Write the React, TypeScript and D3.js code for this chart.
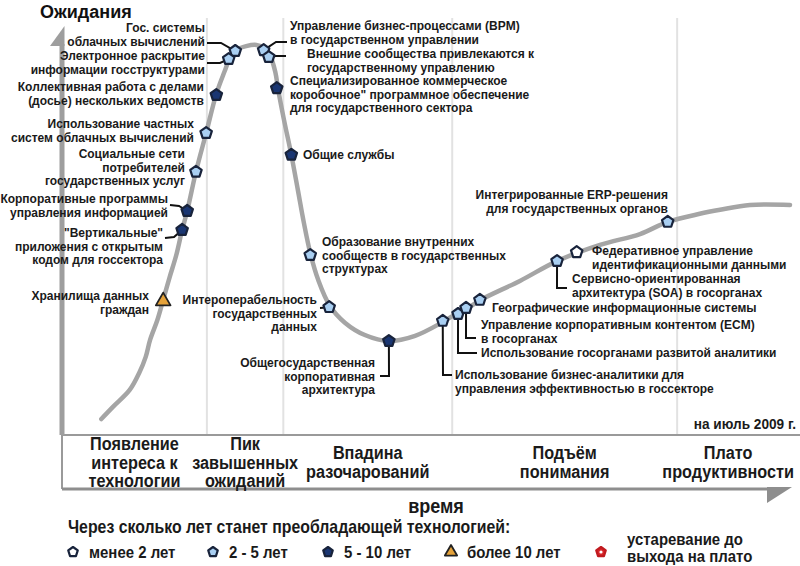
import React, { useEffect, useRef } from "react";
import * as d3 from "d3";

// hype curve: time (0-100) vs expectations (0-100)
const curveTime = [5.4, 7.0, 9.3, 10.6, 11.5, 12.1, 13.1, 13.9, 14.8, 15.7, 16.5, 17.2, 18.4, 19.8, 21.2, 22.3, 23.1, 24.0, 25.3, 26.7, 27.8, 28.6, 29.3, 29.7, 30.5, 31.5, 32.4, 33.2, 34.1, 35.2, 36.8, 38.9, 41.6, 44.9, 48.5, 52.3, 54.4, 55.5, 57.5, 62.9, 68.0, 73.9, 79.4, 83.2, 87.6, 90.4, 94.5, 100];
const curveExpect = [3.7, 6.7, 10.9, 15.1, 19.1, 23.3, 28.2, 33.2, 38.9, 44.3, 50.5, 55.2, 64.9, 74.5, 84.2, 89.6, 93.1, 95.1, 96.0, 96.3, 95.5, 93.6, 89.6, 85.2, 77.7, 69.1, 60.4, 52.5, 44.8, 38.1, 31.7, 27.5, 24.5, 23.0, 24.3, 27.7, 30.0, 30.9, 33.2, 37.9, 42.8, 46.8, 49.5, 52.5, 54.5, 55.5, 56.7, 56.7];

const techNames = [
  ["Гос. системы", "облачных вычислений"],
  ["Электронное раскрытие", "информации госструктурами"],
  ["Коллективная работа с делами", "(досье) нескольких ведомств"],
  ["Использование частных", "систем облачных вычислений"],
  ["Социальные сети", "потребителей", "государственных услуг"],
  ["Корпоративные программы", "управления информацией"],
  ["\"Вертикальные\"", "приложения с открытым", "кодом для госсектора"],
  ["Хранилища данных", "граждан"],
  ["Управление бизнес-процессами (BPM)", "в государственном управлении"],
  ["Внешние сообщества привлекаются к", "государственному управлению"],
  ["Специализированное коммерческое", "коробочное\" программное обеспечение", "для государственного сектора"],
  ["Общие службы"],
  ["Образование внутренних", "сообществ в государственных", "структурах"],
  ["Интероперабельность", "государственных", "данных"],
  ["Общегосударственная", "корпоративная", "архитектура"],
  ["Использование бизнес-аналитики для", "управления эффективностью в госсекторе"],
  ["Использование госорганами развитой аналитики"],
  ["Управление корпоративным контентом (ECM)", "в госорганах"],
  ["Географические информационные системы"],
  ["Сервисно-ориентированная", "архитектура (SOA) в госорганах"],
  ["Федеративное управление", "идентификационными данными"],
  ["Интегрированные ERP-решения", "для государственных органов"],
];
const techTime = [23.8, 22.9, 21.2, 19.8, 18.4, 17.2, 16.5, 13.9, 27.7, 28.4, 29.5, 31.5, 34.1, 36.7, 44.9, 52.3, 54.4, 55.5, 57.4, 68.0, 70.7, 83.2];
const techExpect = [94.8, 92.8, 83.9, 74.5, 64.9, 55.2, 50.5, 32.9, 95.0, 93.3, 85.6, 69.1, 44.3, 31.4, 23.0, 28.0, 29.7, 31.2, 33.2, 42.8, 45.0, 52.5];
const techYears = ["2-5", "2-5", "5-10", "2-5", "2-5", "5-10", "5-10", "gt10", "2-5", "2-5", "5-10", "5-10", "2-5", "2-5", "5-10", "2-5", "2-5", "2-5", "2-5", "2-5", "lt2", "2-5"];

const phaseBounds = [19.9, 30.4, 53.6, 84.5];
const phaseNames = [
  ["Появление", "интереса к", "технологии"],
  ["Пик", "завышенных", "ожиданий"],
  ["Впадина", "разочарований"],
  ["Подъём", "понимания"],
  ["Плато", "продуктивности"],
];

const legendYears = ["lt2", "2-5", "5-10", "gt10", "obsolete"];
const legendNames = [["менее 2 лет"], ["2 - 5 лет"], ["5 - 10 лет"], ["более 10 лет"], ["устаревание до", "выхода на плато"]];

// label placement (pixels): x, y of first line, anchor, leader points before the marker
const labelLayout = [
  { x: 205, y: 28, a: "end", lead: [[207, 43], [221, 43]] },
  { x: 205, y: 56, a: "end", lead: [[207, 63], [220, 63]] },
  { x: 204, y: 87, a: "end", lead: [] },
  { x: 194, y: 124, a: "end", lead: [] },
  { x: 185, y: 154, a: "end", lead: [] },
  { x: 168, y: 199, a: "end", lead: [[170, 205], [179, 206]] },
  { x: 163, y: 233, a: "end", lead: [[165, 238], [174, 237]] },
  { x: 149, y: 296, a: "end", lead: [] },
  { x: 290, y: 26, a: "start", lead: [[287, 42], [276, 42]] },
  { x: 307, y: 54, a: "start", lead: [[286, 56], [276, 56]] },
  { x: 290, y: 81, a: "start", lead: [] },
  { x: 303, y: 155, a: "start", lead: [] },
  { x: 322, y: 242, a: "start", lead: [] },
  { x: 317, y: 300, a: "end", lead: [[320, 308]] },
  { x: 375, y: 363, a: "end", lead: [[380, 376], [389, 376]], after: true },
  { x: 455, y: 375, a: "start", lead: [[452, 375], [443, 375]], after: true },
  { x: 481, y: 353, a: "start", lead: [[477, 353], [458, 353]], after: true },
  { x: 481, y: 325, a: "start", lead: [[476, 338], [466, 338]], after: true },
  { x: 492, y: 308, a: "start", lead: [] },
  { x: 572, y: 279, a: "start", lead: [[567, 288], [557, 288]], after: true },
  { x: 592, y: 251, a: "start", lead: [] },
  { x: 668, y: 195, a: "end", lead: [] },
];
const legendX = [73, 213, 328, 451, 601];

const FILL = { "lt2": "#ffffff", "2-5": "#a9cff2", "5-10": "#1a3672", "obsolete": "#d8262b" };
const LABEL_FONT = "'Liberation Sans', Arial, sans-serif";

const pentagon = (r) => {
  const pts = d3.range(5).map((i) => {
    const a = -Math.PI / 2 + (i * 2 * Math.PI) / 5;
    return [r * Math.cos(a), r * Math.sin(a)];
  });
  return "M" + pts.map((p) => p.join(",")).join("L") + "Z";
};

const drawMarker = (g, kind, r) => {
  if (kind === "gt10") {
    g.append("path")
      .attr("d", d3.symbol(d3.symbolTriangle, r * r * 2.6)())
      .attr("fill", "#e5a23a")
      .attr("stroke", "#222")
      .attr("stroke-width", 1.8)
      .attr("stroke-linejoin", "round");
    return;
  }
  g.append("path")
    .attr("d", pentagon(r))
    .attr("fill", FILL[kind])
    .attr("stroke", kind === "obsolete" ? "#c01a1f" : "#18233b")
    .attr("stroke-width", 2.2)
    .attr("stroke-linejoin", "round");
  if (kind === "obsolete") {
    g.append("circle").attr("r", 1.6).attr("fill", "#fff");
  }
};

// condensed bold text (no narrow font installed, so squeeze Liberation Sans)
const narrowText = (svg, x, y, lines, size, gap, anchor = "start", squeeze = 0.88) => {
  const t = svg
    .append("text")
    .attr("transform", `translate(${x},${y}) scale(${squeeze},1)`)
    .attr("font-family", LABEL_FONT)
    .attr("font-weight", "bold")
    .attr("font-size", size)
    .attr("fill", "#1a1a1a")
    .attr("text-anchor", anchor);
  lines.forEach((s, k) => {
    t.append("tspan").attr("x", 0).attr("y", k * gap).text(s);
  });
  return t;
};

const HypeCycle = () => {
  const svgRef = useRef();

  useEffect(() => {
    document.body.style.margin = "0";
    const svg = d3.select(svgRef.current);
    svg.selectAll("*").remove();

    const x = d3.scaleLinear().domain([0, 100]).range([62, 790]);
    const y = d3.scaleLinear().domain([0, 100]).range([434, 30]);

    // phase grid
    svg
      .selectAll(".grid")
      .data(phaseBounds)
      .join("line")
      .attr("class", "grid")
      .attr("x1", (d) => x(d))
      .attr("x2", (d) => x(d))
      .attr("y1", 18)
      .attr("y2", 435)
      .attr("stroke", "#e2e2e2")
      .attr("stroke-width", 2);

    // axes
    svg.append("line").attr("x1", 62).attr("x2", 800).attr("y1", 435).attr("y2", 435).attr("stroke", "#9a9a9a").attr("stroke-width", 2);
    svg.append("line").attr("x1", 62).attr("x2", 62).attr("y1", 435).attr("y2", 489).attr("stroke", "#9a9a9a").attr("stroke-width", 2);
    svg.append("line").attr("x1", 62).attr("x2", 770).attr("y1", 489).attr("y2", 489).attr("stroke", "#8e8e8e").attr("stroke-width", 3);
    svg.append("path").attr("d", "M767,487L792,487L767,503Z").attr("fill", "#8e8e8e");
    svg.append("line").attr("x1", 62).attr("x2", 62).attr("y1", 44).attr("y2", 435).attr("stroke", "#9e9e9e").attr("stroke-width", 5);
    svg.append("path").attr("d", "M64.5,26L64.5,46L50,46Z").attr("fill", "#9e9e9e");

    svg.append("text").attr("x", 40).attr("y", 18).attr("font-family", LABEL_FONT).attr("font-weight", "bold").attr("font-size", 18).attr("fill", "#111").text("Ожидания");

    // hype curve
    const line = d3
      .line()
      .x((d) => x(d[0]))
      .y((d) => y(d[1]))
      .curve(d3.curveCatmullRom.alpha(0.5));
    svg
      .append("path")
      .datum(d3.zip(curveTime, curveExpect))
      .attr("d", line)
      .attr("fill", "none")
      .attr("stroke", "#a5a5a5")
      .attr("stroke-width", 4.5)
      .attr("stroke-linecap", "round");

    // leaders
    techNames.forEach((_, i) => {
      const L = labelLayout[i];
      if (!L.lead.length) return;
      const m = [x(techTime[i]), y(techExpect[i])];
      const pts = L.after ? [m, ...L.lead.slice().reverse()] : [...L.lead, m];
      svg
        .append("path")
        .attr("d", d3.line()(pts))
        .attr("fill", "none")
        .attr("stroke", "#111")
        .attr("stroke-width", 2);
    });

    // markers
    techNames.forEach((_, i) => {
      const g = svg.append("g").attr("transform", `translate(${x(techTime[i])},${y(techExpect[i])})`);
      drawMarker(g, techYears[i], 6);
    });

    // labels
    techNames.forEach((lines, i) => {
      const L = labelLayout[i];
      const t = svg
        .append("text")
        .attr("font-family", LABEL_FONT)
        .attr("font-weight", "bold")
        .attr("font-size", 12)
        .attr("fill", "#1a1a1a")
        .attr("text-anchor", L.a);
      lines.forEach((s, k) => {
        t.append("tspan").attr("x", L.x).attr("y", L.y + 4 + k * 13.6).text(s);
      });
    });

    narrowText(svg, 796, 429, ["на июль 2009 г."], 15.5, 0, "end");

    // phase names
    const edges = [0, ...phaseBounds, 98.5];
    phaseNames.forEach((lines, i) => {
      const cx = (x(edges[i]) + x(edges[i + 1])) / 2;
      const top = 462.5 - ((lines.length - 1) * 18.5) / 2;
      narrowText(svg, cx, top + 6.2, lines, 17.5, 18.5, "middle", 0.93);
    });

    narrowText(svg, 436, 513, ["время"], 20.5, 0, "middle");
    narrowText(svg, 68, 533, ["Через сколько лет станет преобладающей технологией:"], 18, 0);

    // legend
    legendYears.forEach((kind, i) => {
      const g = svg.append("g").attr("transform", `translate(${legendX[i]},552)`);
      drawMarker(g, kind, 5);
      const lines = legendNames[i];
      const two = lines.length > 1;
      narrowText(svg, legendX[i] + (two ? 26 : 16), two ? 545 : 558, lines, 17, 17);
    });
  }, []);

  return <svg ref={svgRef} width={800} height={566} style={{ display: "block", background: "#fff" }} />;
};

export default function App() {
  return <HypeCycle />;
}
